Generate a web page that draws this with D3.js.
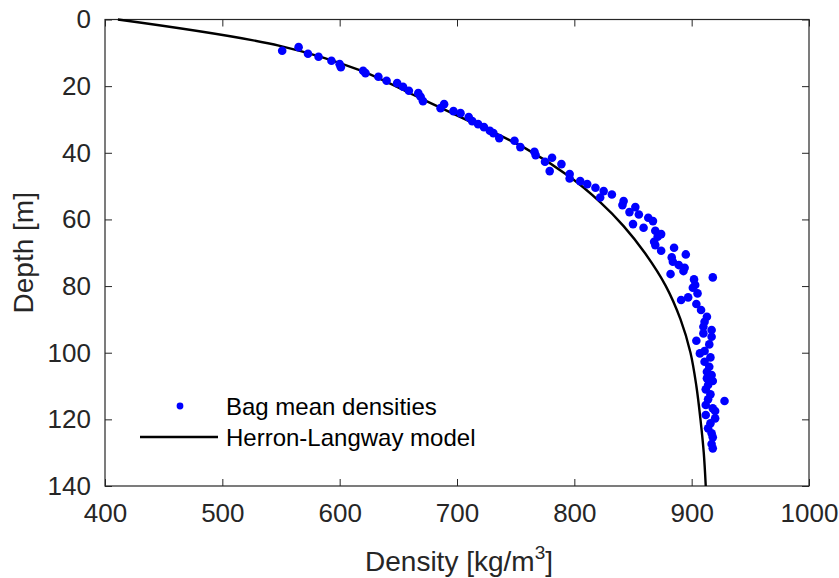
<!DOCTYPE html>
<meta charset="utf-8">
<head>
<style>
  body { margin: 0; background: #fff; }
  text { font-family: "Liberation Sans", Arial, sans-serif; fill: #262626; }
  .axis path, .axis line { stroke: #262626; }
</style>
</head>
<body>
<script src="https://d3js.org/d3.v7.min.js"></script>
<script>

// bag mean densities (kg/m3) and depths (m)
var bagDensity = [551,565,573,582,593,600,601,620,622,633,640,649,654,659,667,669,671,686,689,697,
  703,710,713,718,723,728,731,736,749,754,766,767,775,781,779,789,796,796,805,811,
  818,822,825,832,842,841,847,852,855,863,867,850,859,869,874,871,868,869,874,885,
  895,883,884,889,894,893,882,902,918,903,901,905,897,891,904,908,913,911,910,917,
  910,917,904,915,907,911,916,911,915,913,917,913,918,914,912,916,914,928,912,918,
  920,912,920,916,914,917,918,917,918];
var bagDepth = [9.4,8.3,10.3,11.2,12.4,13.4,14.3,15.4,16.1,17.2,18.4,19.1,20.2,21.4,22.1,23.2,24.5,26.6,25.4,27.5,
  28.1,29.3,30.5,31.4,32.3,33.4,34.1,35.6,36.4,38.3,39.7,40.7,42.7,41.5,45.5,43.4,46.4,47.7,48.5,49.4,
  50.5,53.4,51.5,52.5,54.5,55.7,57.8,56.3,58.5,59.5,60.5,61.4,62.5,63.4,64.4,65.2,66.7,67.7,69.4,68.5,
  70.5,71.4,72.7,73.7,74.5,75.5,76.4,78,77.4,79.7,80.5,82.2,83.4,84.2,85.4,87.2,89.2,90.7,92.2,93.2,
  94.2,95.2,96.4,97.5,100.2,99.5,101.4,102.7,104.2,105.7,106.7,107.7,108.5,109.7,111,112.5,114,114.5,115.7,116.7,
  117.5,118.7,119.7,121.2,122.7,124.2,125.4,127.4,128.7];

// Herron-Langway model curve
var modelDensity = [411,549,617,668,703,758,796,822,842,860,878,890.5,899,904,907.5,910.3,912];
var modelDepth   = [0,7.9,15.2,23.5,29.3,38.6,47.2,54.8,62,70,80,90,100,110,120,130,140];

var xTicks = [400,500,600,700,800,900,1000];
var yTicks = [0,20,40,60,80,100,120,140];

var margin = {top: 19.5, left: 105},
    width = 809 - margin.left,
    height = 486 - margin.top;

var x = d3.scaleLinear().domain([400, 1000]).range([0, width]);
var y = d3.scaleLinear().domain([0, 140]).range([0, height]);

var svg = d3.select("body").append("svg")
    .attr("width", 839)
    .attr("height", 578)
  .append("g")
    .attr("transform", "translate(" + margin.left + "," + margin.top + ")");

// box
svg.append("rect")
    .attr("width", width).attr("height", height)
    .style("fill", "none").style("stroke", "#262626").style("stroke-width", 1.2);

// axes, ticks inward
svg.append("g").attr("class", "axis")
    .attr("transform", "translate(0," + height + ")")
    .call(d3.axisBottom(x).tickValues(xTicks).tickFormat(d3.format("d"))
      .tickSizeInner(-7).tickSizeOuter(0).tickPadding(18))
    .call(function(g) { g.select(".domain").remove(); })
    .selectAll("text").style("font-size", "26px").style("fill", "#262626");
svg.append("g").attr("class", "axis")
    .call(d3.axisTop(x).tickValues(xTicks).tickSizeInner(-7).tickSizeOuter(0).tickFormat(""))
    .call(function(g) { g.select(".domain").remove(); });
svg.append("g").attr("class", "axis")
    .call(d3.axisLeft(y).tickValues(yTicks).tickSizeInner(-7).tickSizeOuter(0).tickPadding(14))
    .call(function(g) { g.select(".domain").remove(); })
    .selectAll("text").style("font-size", "26px").style("fill", "#262626");
svg.append("g").attr("class", "axis")
    .attr("transform", "translate(" + width + ",0)")
    .call(d3.axisRight(y).tickValues(yTicks).tickSizeInner(-7).tickSizeOuter(0).tickFormat(""))
    .call(function(g) { g.select(".domain").remove(); });

// model line
var line = d3.line()
    .x(function(d) { return x(modelDensity[d]); })
    .y(function(d) { return y(modelDepth[d]); })
    .curve(d3.curveCatmullRom.alpha(0.5));
svg.append("path")
    .datum(d3.range(modelDensity.length))
    .attr("d", line)
    .style("fill", "none").style("stroke", "#000").style("stroke-width", 2.4);

// dots
svg.selectAll(".dot")
    .data(d3.range(bagDensity.length))
  .enter().append("circle")
    .attr("class", "dot")
    .attr("cx", function(i) { return x(bagDensity[i]); })
    .attr("cy", function(i) { return y(bagDepth[i]); })
    .attr("r", 4.3)
    .style("fill", "#0000ff");

// legend
var lg = svg.append("g").attr("transform", "translate(35,386.5)");
lg.append("circle").attr("cx", 40).attr("cy", 0).attr("r", 3.4).style("fill", "#0000ff");
lg.append("text").attr("x", 86).attr("y", 8.5).style("font-size", "24px").style("fill", "#000")
    .text("Bag mean densities");
lg.append("line").attr("x1", 0).attr("x2", 78).attr("y1", 31).attr("y2", 31)
    .style("stroke", "#000").style("stroke-width", 2.4);
lg.append("text").attr("x", 86).attr("y", 39.5).style("font-size", "24px").style("fill", "#000")
    .text("Herron-Langway model");

// axis labels
var xl = svg.append("text")
    .attr("x", width / 2 + 2)
    .attr("y", height + 85)
    .style("text-anchor", "middle")
    .style("font-size", "28px");
xl.append("tspan").text("Density [kg/m");
xl.append("tspan").attr("dy", "-12").style("font-size", "19px").text("3");
xl.append("tspan").attr("dy", "12").text("]");

svg.append("text")
    .attr("transform", "rotate(-90)")
    .attr("x", -height / 2)
    .attr("y", -72)
    .style("text-anchor", "middle")
    .style("font-size", "28px")
    .text("Depth [m]");

</script>
</body>
